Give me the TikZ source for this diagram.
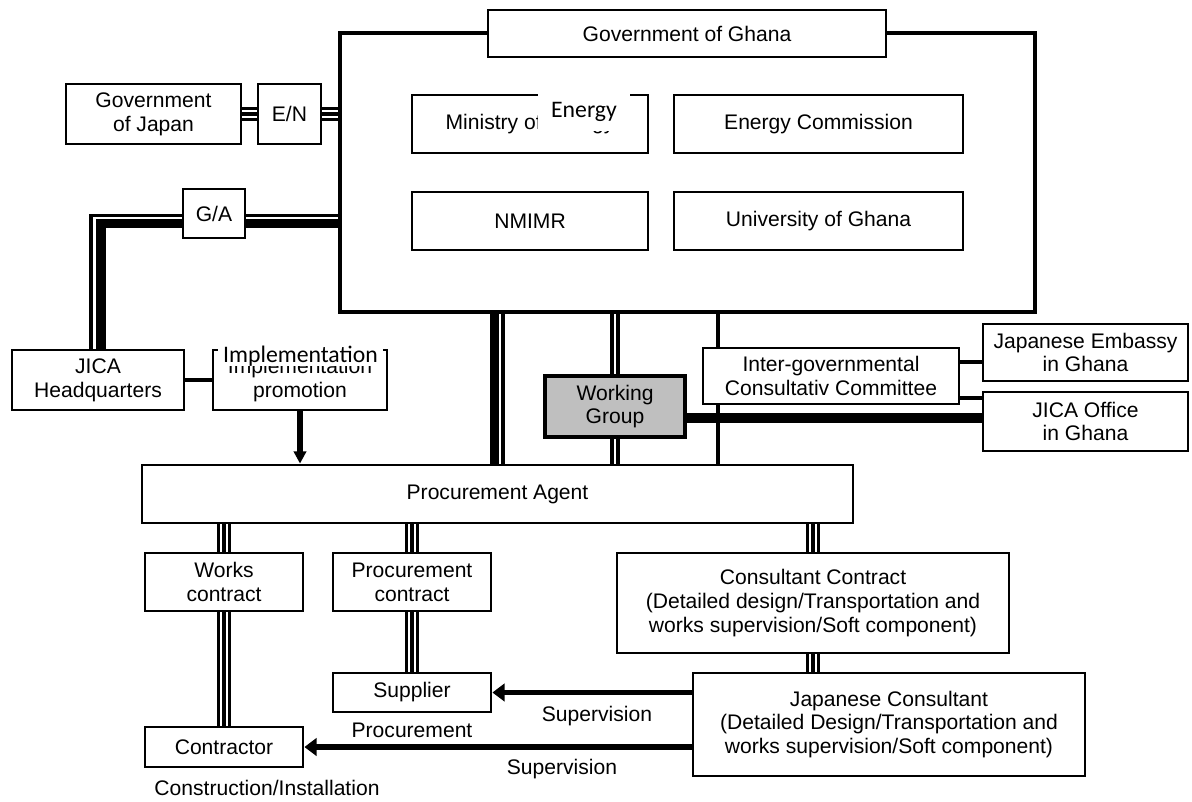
\documentclass[tikz,border=0pt]{standalone}
\usepackage{fontspec}
\setmainfont{Liberation Sans}
\newfontfamily\calibri{Carlito}
\usetikzlibrary{arrows.meta,calc,backgrounds}

\begin{document}
\begin{tikzpicture}[
    x=0.02cm, y=-0.02cm,
    font=\fontsize{12}{13.6}\selectfont,
    org/.style 2 args={
      draw,
      line width=1.6pt,
      fill=white,
      inner sep=0pt,
      align=center,
      minimum width=#1*0.02cm,
      minimum height=#2*0.02cm
    },
    frame/.style={
      draw,
      line width=2.8pt,
      inner sep=0pt,
      minimum width=695*0.02cm,
      minimum height=279*0.02cm
    },
    group/.style={
      org={140}{61},
      fill=black!25,
      line width=2.8pt
    },
    patch/.style 2 args={
      fill=white,
      inner sep=0pt,
      minimum width=#1*0.02cm,
      minimum height=#2*0.02cm,
      font=\calibri\fontsize{13.5}{14}\selectfont
    },
    note/.style={inner sep=0pt},
    hair/.style={line width=1.8pt},
    heavy/.style={line width=5.2pt},
    twin/.style={double, double distance=1.5pt, line width=2.2pt},
    triple/.style={
      line width=8pt,
      postaction={draw=white, line width=5pt},
      postaction={draw=black, line width=1.8pt}
    },
    superv/.style={line width=3.2pt, -{Triangle[length=7pt, width=10pt]}}
  ]
    \useasboundingbox (0,0) rectangle (1192,801);

    % Ghana side
    \node[frame] (ghana) at (687.5,172.5) {};
    \node[org={398}{47}] (gog) at (687,33.5) {Government of Ghana};
    \node[org={236}{58}] (moe) at (530,124) {Ministry of Energy};
    \node[org={289}{58}] (ec) at (818.5,124) {Energy Commission};
    \node[org={236}{58}] (nmimr) at (530,221) {NMIMR};
    \node[org={289}{58}] (ug) at (818.5,221) {University of Ghana};
    \node[patch={92}{38}] (moepatch) at (584,112) {Energy};

    % Japan side
    \node[org={175}{60}] (goj) at (153.5,114) {Government\\of Japan};
    \node[org={63}{60}] (en) at (289.5,114) {E/N};
    \node[org={62}{49}] (ga) at (214,213.5) {G/A};
    \node[org={172}{60}] (hq) at (98,380) {JICA\\Headquarters};
    \node[org={174}{60}] (impl) at (300,380) {Implementation\\promotion};
    \node[patch={165}{19}] (implpatch) at (300.5,356) {Implementation};

    \node[org={711}{58}] (pa) at (497.5,494) {Procurement Agent};
    \node[group] (wg) at (615,406.5) {Working\\Group};
    \node[org={256}{56}] (igcc) at (831,376) {Inter-governmental\\Consultativ Committee};
    \node[org={205}{57}] (emb) at (1085.5,352.5) {Japanese Embassy\\in Ghana};
    \node[org={205}{59}] (jo) at (1085.5,421.5) {JICA Office\\in Ghana};

    % contracts
    \node[org={158}{58}] (wc) at (224,582) {Works\\contract};
    \node[org={158}{58}] (pc) at (412,582) {Procurement\\contract};
    \node[org={392}{100}] (cc) at (813,603) {Consultant Contract\\(Detailed design/Transportation and\\works supervision/Soft component)};
    \node[org={158}{39}] (sup) at (412,692.5) {Supplier};
    \node[org={392}{103}] (jc) at (889,724.5) {Japanese Consultant\\(Detailed Design/Transportation and\\works supervision/Soft component)};
    \node[org={158}{40}] (con) at (224,747) {Contractor};
    \node[note] (procure) at (412,730) {Procurement};
    \node[note] (install) at (267,788) {Construction/Installation};
    \node[note] (superv1) at (597,716) {Supervision};
    \node[note] (superv2) at (562,769) {Supervision};

    \begin{scope}[on background layer]
      \draw[triple] (goj) -- (en);
      \draw[triple] (en) -- (en -| ghana.west);

      \draw[heavy] ($(hq.north)+(3,0)$) |- ($(ga.west)+(0,10)$);
      \draw[hair] ($(hq.north)+(-7,0)$) |- ($(ga.west)+(0,2)$);
      \path ($(ga.east)+(0,10)$) coordinate (gaheavy)
            ($(ga.east)+(0,2)$) coordinate (gahair);
      \draw[heavy] (gaheavy) -- (gaheavy -| ghana.west);
      \draw[hair] (gahair) -- (gahair -| ghana.west);

      \draw[hair] (hq) -- (impl);
      \draw[line width=3pt, -{Triangle[length=7pt, width=7pt]}] (impl.south) -- (impl.south |- pa.north);

      \draw[heavy] (ghana.south -| 494.7,0) -- (pa.north -| 494.7,0);
      \draw[hair] (ghana.south -| 503,0) -- (pa.north -| 503,0);
      \draw[twin] (wg.north) -- (wg.north |- ghana.south);
      \draw[twin] (wg.south) -- (wg.south |- pa.north);
      \draw[hair] (ghana.south -| 718,0) -- (igcc.north -| 718,0);
      \draw[hair] (igcc.south -| 718,0) -- (pa.north -| 718,0);
      \draw[hair] (igcc.east |- 0,362) -- (emb.west |- 0,362);
      \draw[hair] (igcc.east |- 0,398) -- (jo.west |- 0,398);
      \draw[heavy, line width=5.6pt] (wg.east |- 0,418) -- (jo.west |- 0,418);

      \draw[triple] (wc.north |- pa.south) -- (wc);
      \draw[triple] (pc.north |- pa.south) -- (pc);
      \draw[triple] (cc.north |- pa.south) -- (cc);
      \draw[triple] (wc) -- (con);
      \draw[triple] (pc) -- (sup);
      \draw[triple] (cc) -- (cc.south |- jc.north);

      \draw[superv] (jc.west |- sup.east) -- (sup.east);
      \draw[superv] (jc.west |- con.east) -- (con.east);
    \end{scope}
  \end{tikzpicture}
\end{document}
